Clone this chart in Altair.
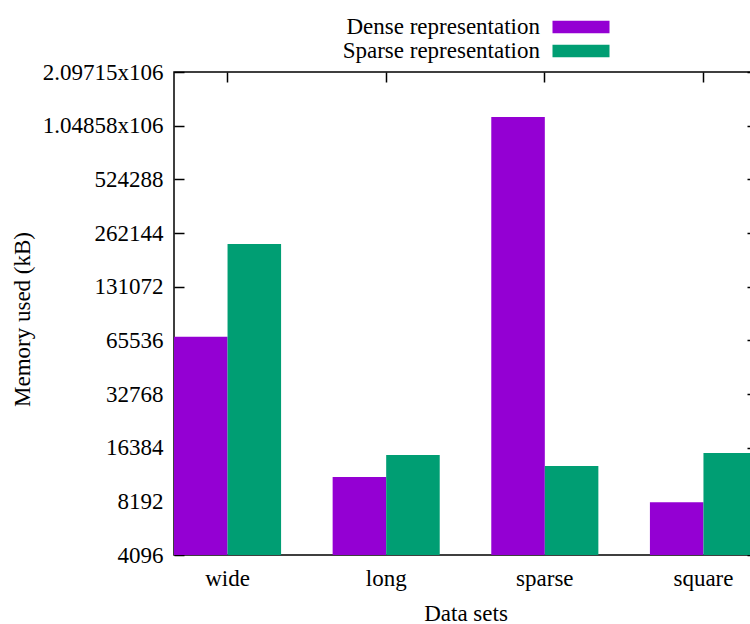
import altair as alt
import pandas as pd

# ---- data ----
datasets = ["wide", "long", "sparse", "square"]
series = ["Dense representation", "Sparse representation"]
dense_kb = [68700, 11200, 1172000, 8090]
sparse_kb = [227400, 14900, 12930, 15290]
colors = ["#9400D3", "#009E73"]

yticks = [4096, 8192, 16384, 32768, 65536, 131072, 262144, 524288, 1048576, 2097152]
ylabels = ["4096", "8192", "16384", "32768", "65536", "131072", "262144", "524288",
           "1.04858x106\u2009", "2.09715x106\u2009"]

rows = []
for d, a, b in zip(datasets, dense_kb, sparse_kb):
    rows.append({"dataset": d, "series": series[0], "value": a})
    rows.append({"dataset": d, "series": series[1], "value": b})
df = pd.DataFrame(rows)

label_expr = "''"
for v, l in reversed(list(zip(yticks, ylabels))):
    label_expr = f"datum.value == {v} ? '{l}' : ({label_expr})"

FONT = "Liberation Serif"
FS = 23

xscale = alt.Scale(paddingInner=0.325, paddingOuter=0)
yscale = alt.Scale(type="log", base=2, domain=[4096, 2097152], nice=False)
oscale = alt.Scale(paddingInner=0, paddingOuter=0)

base = alt.Chart(df)

# legend swatch drawn to the right of its (right-aligned) label
swatch = "M4.8,-1.26H16.2V1.26H4.8Z"

bars = base.mark_bar(opacity=1).encode(
    x=alt.X("dataset:N", sort=datasets, scale=xscale,
            axis=alt.Axis(orient="bottom", ticks=False, domain=False, grid=False,
                          labelAngle=0, labelPadding=30, labelBaseline="alphabetic",
                          title="Data sets", titleY=65, titleBaseline="alphabetic")),
    xOffset=alt.XOffset("series:N", sort=series, scale=oscale),
    y=alt.Y("value:Q", scale=yscale, stack=None,
            axis=alt.Axis(orient="left", values=yticks, labelExpr=label_expr,
                          offset=-10, tickSize=10, domain=False, grid=False,
                          labelPadding=11, title="Memory used (kB)",
                          titleX=-155, titleY=247, titleAngle=-90,
                          titleBaseline="alphabetic")),
    color=alt.Color("series:N", sort=series,
                    scale=alt.Scale(domain=series, range=colors),
                    legend=alt.Legend(orient="none", legendX=343, legendY=-56.5,
                                      direction="vertical", title=None,
                                      symbolType=swatch,
                                      symbolSize=100, symbolStrokeWidth=0,
                                      symbolOpacity=1, symbolOffset=0,
                                      labelAlign="right", labelOffset=0,
                                      labelFont=FONT, labelFontSize=FS,
                                      labelColor="#000", labelLimit=400,
                                      rowPadding=0, padding=0)),
)

mirror = base.mark_bar(opacity=0).encode(
    x=alt.X("dataset:N", sort=datasets, scale=xscale,
            axis=alt.Axis(orient="top", labels=False, domain=False, grid=False,
                          offset=-10, tickSize=10, title=None)),
    xOffset=alt.XOffset("series:N", sort=series, scale=oscale),
    y=alt.Y("value:Q", scale=yscale, stack=None,
            axis=alt.Axis(orient="right", values=yticks, labels=False, domain=False,
                          grid=False, offset=-10, tickSize=10, title=None)),
)

chart = alt.layer(bars, mirror).resolve_axis(
    x="independent", y="independent"
).properties(
    width=583, height=483,
    autosize=alt.AutoSizeParams(type="none"),
    padding={"left": 174, "top": 72, "right": -7, "bottom": 69},
).configure(
    background="white"
).configure_view(
    stroke="#000", strokeWidth=1.5
).configure_axis(
    labelFont=FONT, labelFontSize=FS, labelColor="#000",
    titleFont=FONT, titleFontSize=FS, titleColor="#000", titleFontWeight="normal",
    tickColor="#000", tickWidth=1.5,
)

chart.save("out.html", embed_options={"renderer": "svg", "actions": False})
